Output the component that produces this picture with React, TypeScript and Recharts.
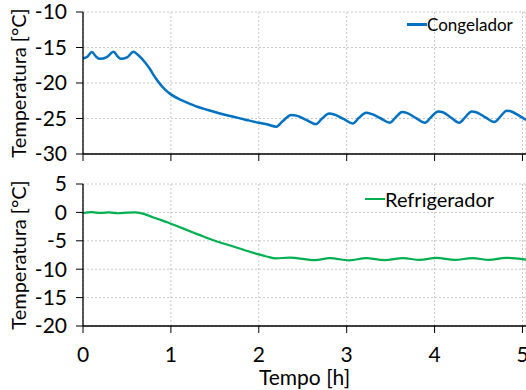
import { LineChart, Line, XAxis, YAxis, CartesianGrid, Legend } from 'recharts'

const FONT = 'Lato, "Open Sans", sans-serif'
const BLUE = '#0070c0'
const GREEN = '#00b050'

// Congelador (freezer)
const tempoCong = [0, 0.05, 0.1, 0.15, 0.19, 0.27, 0.35, 0.39, 0.43, 0.5, 0.575, 0.63, 0.7, 0.76, 0.82, 0.88, 0.94, 1.0, 1.1, 1.19, 1.3, 1.42, 1.56, 1.71, 1.86, 2.0, 2.1, 2.2, 2.27, 2.37, 2.43, 2.54, 2.65, 2.72, 2.8, 2.86, 2.97, 3.07, 3.14, 3.22, 3.28, 3.39, 3.49, 3.56, 3.63, 3.69, 3.79, 3.89, 3.96, 4.04, 4.1, 4.19, 4.28, 4.35, 4.42, 4.48, 4.58, 4.68, 4.75, 4.82, 4.88, 4.96, 5.04]
const congelador = [-16.55, -16.3, -15.65, -16.3, -16.6, -16.35, -15.6, -16.2, -16.6, -16.4, -15.6, -16.1, -17.0, -18.0, -19.2, -20.2, -21.0, -21.6, -22.3, -22.8, -23.35, -23.8, -24.3, -24.75, -25.2, -25.6, -25.85, -26.15, -25.4, -24.5, -24.6, -25.2, -25.8, -25.0, -24.3, -24.45, -25.1, -25.7, -24.9, -24.2, -24.35, -25.0, -25.6, -24.8, -24.1, -24.25, -24.95, -25.6, -24.8, -24.0, -24.15, -24.9, -25.6, -24.8, -24.0, -24.15, -24.85, -25.5, -24.7, -23.9, -24.05, -24.6, -25.2]

// Refrigerador (fridge)
const tempoRef = [0, 0.1, 0.2, 0.3, 0.4, 0.5, 0.6, 0.7, 0.8, 0.9, 1.0, 1.15, 1.33, 1.5, 1.71, 1.85, 2.0, 2.1, 2.19, 2.35, 2.64, 2.81, 3.03, 3.22, 3.43, 3.64, 3.83, 4.02, 4.23, 4.43, 4.62, 4.81, 5.04]
const refrigerador = [-0.1, 0.05, -0.1, 0.0, -0.15, -0.05, 0.0, -0.3, -0.9, -1.4, -2.0, -2.9, -4.0, -5.0, -6.0, -6.7, -7.4, -7.8, -8.1, -7.95, -8.4, -8.05, -8.45, -8.05, -8.4, -8.05, -8.35, -8.0, -8.35, -8.05, -8.35, -8.0, -8.3]

const xTicks = [0, 1, 2, 3, 4, 5]
const congTicks = [-30, -25, -20, -15, -10]
const refTicks = [-20, -15, -10, -5, 0, 5]

const congData = tempoCong.map((t, i) => ({ t, v: congelador[i] }))
const refData = tempoRef.map((t, i) => ({ t, v: refrigerador[i] }))

function yTitle(props: any) {
  const vb = props.viewBox || {}
  const x = 18
  const y = vb.y + vb.height / 2
  return (
    <text x={x} y={y} transform={`rotate(-90 ${x} ${y})`} textAnchor="middle" dominantBaseline="central" fontSize={20} fill="#000">
      Temperatura [°C]
    </text>
  )
}

function legendBox(fontSize: number) {
  return (props: any) => {
    const p = (props.payload || [])[0] || {}
    return (
      <div style={{ display: 'flex', alignItems: 'center', fontFamily: FONT, fontSize, color: '#000', whiteSpace: 'nowrap' }}>
        <span style={{ display: 'inline-block', width: 20, height: 2.5, background: p.color }} />
        <span>{p.value}</span>
      </div>
    )
  }
}

const noTick = () => <g />

export default function App() {
  return (
    <div style={{ position: 'absolute', left: 0, top: 0, width: 526, height: 390, overflow: 'hidden', background: '#fff', fontFamily: FONT }}>
      <div style={{ position: 'absolute', left: 0, top: 0 }}>
        <LineChart width={526} height={170} data={congData} margin={{ top: 12, right: 0, bottom: 0, left: 0 }}>
          <CartesianGrid stroke="#c8c8c8" strokeDasharray="2 2" />
          <XAxis dataKey="t" type="number" domain={[0, 5.04]} ticks={xTicks} interval={0} height={16} tick={noTick} tickSize={7} axisLine={{ stroke: '#000', strokeWidth: 1.3 }} tickLine={{ stroke: '#000' }} />
          <YAxis type="number" domain={[-30, -10]} ticks={congTicks} interval={0} width={83} tickSize={7} tickMargin={9} tick={{ fill: '#000', fontSize: 21 }} axisLine={{ stroke: '#000', strokeWidth: 1.3 }} tickLine={{ stroke: '#000' }} label={yTitle} />
          <Legend verticalAlign="middle" align="center" content={legendBox(17)} wrapperStyle={{ top: 14, left: 407, width: 119, height: 22 }} />
          <Line type="monotone" dataKey="v" name="Congelador" stroke={BLUE} strokeWidth={2.5} dot={false} isAnimationActive={false} />
        </LineChart>
      </div>
      <div style={{ position: 'absolute', left: 0, top: 170 }}>
        <LineChart width={526} height={220} data={refData} margin={{ top: 14, right: 0, bottom: 0, left: 0 }}>
          <CartesianGrid stroke="#c8c8c8" strokeDasharray="2 2" />
          <XAxis dataKey="t" type="number" domain={[0, 5.04]} ticks={xTicks} interval={0} height={64} tickSize={7} tickMargin={14} tick={{ fill: '#000', fontSize: 21 }} axisLine={{ stroke: '#000', strokeWidth: 1.3 }} tickLine={{ stroke: '#000' }} label={{ value: 'Tempo [h]', position: 'insideBottom', offset: 5, fill: '#000', fontSize: 21 }} />
          <YAxis type="number" domain={[-20, 5]} ticks={refTicks} interval={0} width={83} tickSize={7} tickMargin={9} tick={{ fill: '#000', fontSize: 21 }} axisLine={{ stroke: '#000', strokeWidth: 1.3 }} tickLine={{ stroke: '#000' }} label={yTitle} />
          <Legend verticalAlign="middle" align="center" content={legendBox(20)} wrapperStyle={{ top: 17, left: 365, width: 161, height: 26 }} />
          <Line type="monotone" dataKey="v" name="Refrigerador" stroke={GREEN} strokeWidth={2.2} dot={false} isAnimationActive={false} />
        </LineChart>
      </div>
    </div>
  )
}
